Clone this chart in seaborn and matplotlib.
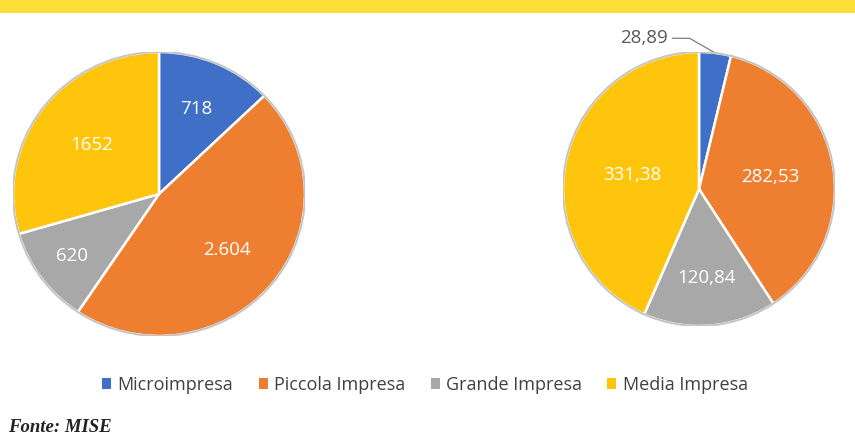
import numpy as np
import matplotlib
matplotlib.use("Agg")
import matplotlib.pyplot as plt
import seaborn as sns
from matplotlib.patches import Rectangle, Ellipse

sns.set_theme(style="white")
plt.rcParams['font.family'] = ['Open Sans', 'DejaVu Sans']

categories = ["Microimpresa", "Piccola Impresa", "Grande Impresa", "Media Impresa"]
left_values = [718, 2604, 620, 1652]
left_labels = ["718", "2.604", "620", "1652"]
right_values = [28.89, 282.53, 120.84, 331.38]
right_labels = ["28,89", "282,53", "120,84", "331,38"]
colors = ["#3F6FC6", "#EE7F30", "#A8A8A8", "#FEC50C"]
source = "Fonte: MISE"

W, H = 855, 437
fig = plt.figure(figsize=(W / 100, H / 100), dpi=100)
fig.patch.set_facecolor("white")

# yellow header band
fig.patches.append(Rectangle((0, 1 - 13 / H), 1, 13 / H, transform=fig.transFigure,
                             facecolor="#FDDE36", edgecolor="none", zorder=0))


def px_axes(cx, cy, rx, ry):
    return fig.add_axes([(cx - rx) / W, 1 - (cy + ry) / H, 2 * rx / W, 2 * ry / H])


def draw_pie(ax, values):
    wedges, _ = ax.pie(values, colors=colors, startangle=90, counterclock=False,
                       radius=1.0, wedgeprops=dict(edgecolor="white", linewidth=1.8))
    ax.add_patch(Ellipse((0, 0), 2.0, 2.0, fill=False, edgecolor="#c4c4c4",
                         linewidth=1.4, zorder=5))
    ax.set_xlim(-1.0, 1.0)
    ax.set_ylim(-1.0, 1.0)
    ax.set_aspect("auto")
    ax.axis("off")
    return wedges


LABEL_FS = 13.5

axL = px_axes(159, 194, 146, 142)
wL = draw_pie(axL, left_values)
distL = [0.65, 0.61, 0.74, 0.58]
for w, lab, d in zip(wL, left_labels, distL):
    ang = np.deg2rad((w.theta1 + w.theta2) / 2)
    axL.text(d * np.cos(ang), d * np.sin(ang), lab, color="white", fontsize=LABEL_FS,
             ha="center", va="center", zorder=6)

axR = px_axes(699, 189, 136, 137)
wR = draw_pie(axR, right_values)
distR = [None, 0.53, 0.65, 0.50]
for w, lab, d in zip(wR, right_labels, distR):
    ang = np.deg2rad((w.theta1 + w.theta2) / 2)
    if d is None:
        xy = (np.cos(ang) * 1.0, np.sin(ang) * 1.0)
        axR.annotate(lab, xy=xy, xytext=(-0.23, 1.10), fontsize=LABEL_FS, color="#595959",
                     ha="right", va="center", annotation_clip=False,
                     arrowprops=dict(arrowstyle="-", color="#7f7f7f", lw=0.9,
                                     shrinkA=1, shrinkB=0,
                                     connectionstyle="angle,angleA=0,angleB=150,rad=0"))
    else:
        axR.text(d * np.cos(ang), d * np.sin(ang), lab, color="white", fontsize=LABEL_FS,
                 ha="center", va="center", zorder=6)

handles = [Rectangle((0, 0), 1, 1, facecolor=c, edgecolor="none") for c in colors]
fig.legend(handles, categories, loc="center", bbox_to_anchor=(425 / W, 1 - 385 / H),
           ncol=4, frameon=False, fontsize=13, handlelength=0.5, handleheight=0.5,
           handletextpad=0.35, columnspacing=1.4, labelcolor="#404040")

fig.text(8 / W, 1 - 428 / H, source, fontsize=13.5, fontweight="bold", fontstyle="italic",
         family="Liberation Serif", color="#222222", ha="left", va="center")

fig.savefig("out.png", dpi=100)
